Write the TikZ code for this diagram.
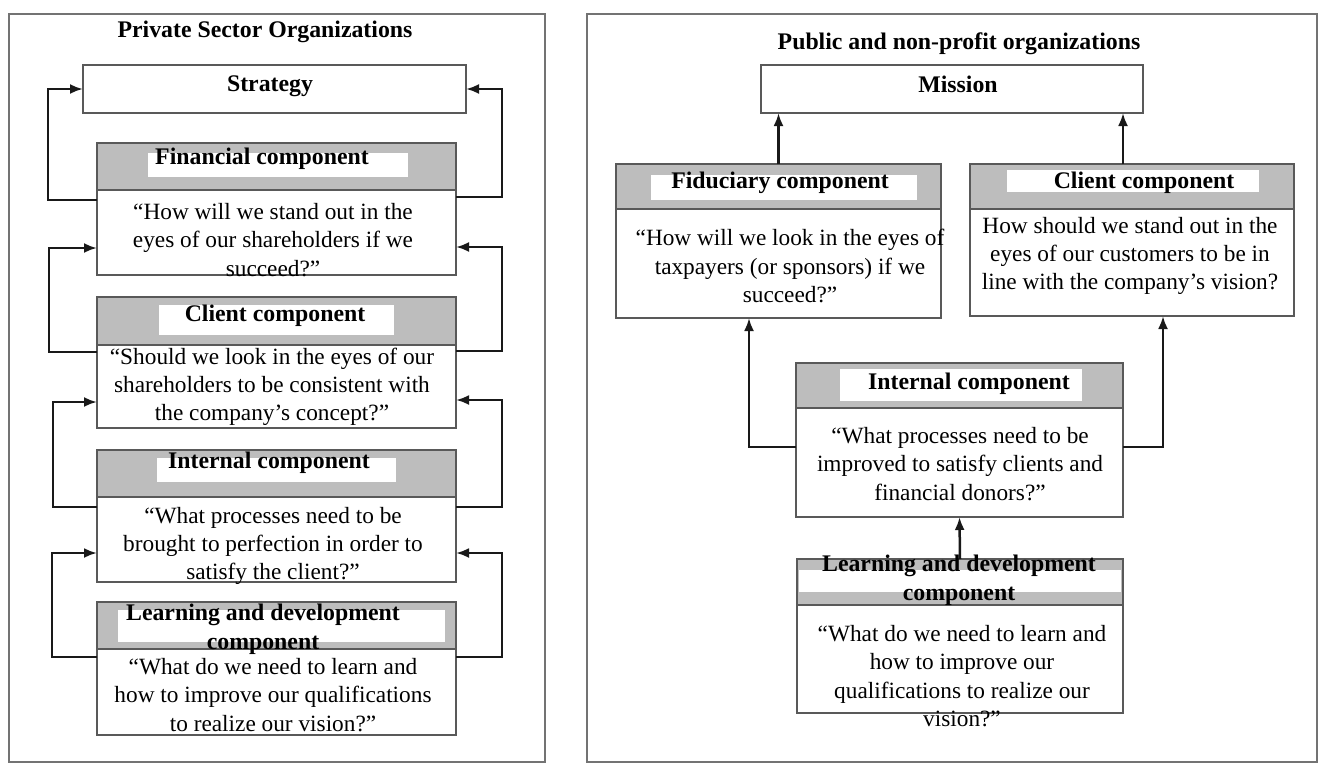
\documentclass[tikz,border=0pt]{standalone}
\usepackage{fontspec}
\setmainfont{Liberation Serif}
\usetikzlibrary{arrows.meta,fit}
\begin{document}
\begin{tikzpicture}[x=1pt,y=-1pt,
  panel/.style={draw=black!55, line width=1.6pt},
  plainbox/.style={draw=black!65, line width=1.8pt, inner sep=0pt, outer sep=0pt},
  hdr/.style={draw=black!65, line width=1.8pt, fill=black!26, inner sep=0pt, outer sep=0pt},
  lbl/.style={fill=white, inner sep=0pt, outer sep=0pt},
  ttl/.style={font=\fontsize{23.8}{29}\selectfont\bfseries, inner sep=0pt, align=center},
  body/.style={font=\fontsize{23.3}{28.3}\selectfont, inner sep=0pt, align=center},
  link/.style={draw=black!90, line width=2.5pt, -{Latex[length=13pt,width=10pt]}},
]
\useasboundingbox (0,0) rectangle (1336,766);

% ---------------- left panel: private sector ----------------
\node[panel, inner sep=0pt, fit={(9,14) (545,762)}] (frameL) {};
\node[ttl] (titleL) at (265,32) {Private Sector Organizations};

\node[plainbox, fit={(83,65) (466,113)}] (strat) {};
\node[ttl] (stratT) at (270,86) {Strategy};

% financial component
\node[hdr, fit={(97,143) (456,190)}] (finH) {};
\node[lbl, fit={(148,153) (408,177)}] (finL) {};
\node[plainbox, fit={(97,190) (456,275)}] (finB) {};
\node[ttl] (finT) at (262,159) {Financial component};
\node[body] (finQ) at (273,240) {``How will we stand out in the\\eyes of our shareholders if we\\succeed?''};

% client component
\node[hdr, fit={(97,297) (456,345)}] (cliH) {};
\node[lbl, fit={(159,305) (394,335)}] (cliL) {};
\node[plainbox, fit={(97,345) (456,428)}] (cliB) {};
\node[ttl] (cliT) at (275,316) {Client component};
\node[body] (cliQ) at (272,387) {``Should we look in the eyes of our\\shareholders to be consistent with\\the company's concept?''};

% internal component
\node[hdr, fit={(97,450) (456,497)}] (intH) {};
\node[lbl, fit={(157,458) (396,482)}] (intL) {};
\node[plainbox, fit={(97,497) (456,582)}] (intB) {};
\node[ttl] (intT) at (269,463) {Internal component};
\node[body] (intQ) at (273,546) {``What processes need to be\\brought to perfection in order to\\satisfy the client?''};

% learning and development component
\node[hdr, fit={(97,602) (456,649)}] (lrnH) {};
\node[lbl, fit={(118,610) (445,642)}] (lrnL) {};
\node[plainbox, fit={(97,649) (456,735)}] (lrnB) {};
\node[ttl] (lrnT) at (263,629) {Learning and development\\component};
\node[body] (lrnQ) at (273,695) {``What do we need to learn and\\how to improve our qualifications\\to realize our vision?''};

% feedback loops on both sides
\draw[link] ([yshift=-10pt]finB.north west) -- ++(-49,0) |- (strat.west);
\draw[link] ([yshift=-7pt]finB.north east) -- ++(46,0) |- (strat.east);
\draw[link] ([yshift=-7pt]cliB.north west) -- ++(-48,0) |- ([yshift=-15.5pt]finB.west);
\draw[link] ([yshift=-6pt]cliB.north east) -- ++(46,0) |- ([yshift=-14.5pt]finB.east);
\draw[link] ([yshift=-10pt]intB.north west) -- ++(-44,0) |- ([yshift=-15.5pt]cliB.west);
\draw[link] ([yshift=-10pt]intB.north east) -- ++(46,0) |- ([yshift=-13.5pt]cliB.east);
\draw[link] ([yshift=-8pt]lrnB.north west) -- ++(-45,0) |- ([yshift=-13.5pt]intB.west);
\draw[link] ([yshift=-8pt]lrnB.north east) -- ++(46,0) |- ([yshift=-13.5pt]intB.east);

% ---------------- right panel: public and non-profit ----------------
\node[panel, inner sep=0pt, fit={(587,14) (1317,762)}] (frameR) {};
\node[ttl] (titleR) at (959,44) {Public and non-profit organizations};

\node[plainbox, fit={(761,65) (1143,113)}] (mis) {};
\node[ttl] (misT) at (958,84) {Mission};

% fiduciary component
\node[hdr, fit={(616,164) (941,209)}] (fidH) {};
\node[lbl, fit={(651,175) (917,200)}] (fidL) {};
\node[plainbox, fit={(616,209) (941,318)}] (fidB) {};
\node[ttl] (fidT) at (780,183) {Fiduciary component};
\node[body] (fidQ) at (790,266) {``How will we look in the eyes of\\taxpayers (or sponsors) if we\\succeed?''};

% client component
\node[hdr, fit={(970,164) (1294,209)}] (rcH) {};
\node[lbl, fit={(1007,170) (1259,192)}] (rcL) {};
\node[plainbox, fit={(970,209) (1294,316)}] (rcB) {};
\node[ttl] (rcT) at (1144,183) {Client component};
\node[body] (rcQ) at (1130,256) {How should we stand out in the\\eyes of our customers to be in\\line with the company's vision?};

% internal component
\node[hdr, fit={(796,363) (1123,408)}] (riH) {};
\node[lbl, fit={(840,369) (1082,401)}] (riL) {};
\node[plainbox, fit={(796,408) (1123,517)}] (riB) {};
\node[ttl] (riT) at (969,384) {Internal component};
\node[body] (riQ) at (960,464) {``What processes need to be\\improved to satisfy clients and\\financial donors?''};

% learning and development component
\node[hdr, fit={(797,559) (1123,605)}] (rlH) {};
\node[lbl, fit={(799,570) (1121,592)}] (rlL) {};
\node[plainbox, fit={(797,605) (1123,713)}] (rlB) {};
\node[ttl] (rlT) at (959,580) {Learning and development\\component};
\node[body] (rlQ) at (962,676) {``What do we need to learn and\\how to improve our\\qualifications to realize our\\vision?''};

% upward links
\draw[link] (fidH.north) -- (fidH.north |- mis.south);
\draw[link] ([xshift=-9pt]rcH.north) -- ([xshift=-9pt]rcH.north |- mis.south);
\draw[link] ([yshift=15.5pt]riB.west) -| ([xshift=-29.5pt]fidB.south);
\draw[link] ([yshift=15.5pt]riB.east) -| ([xshift=31pt]rcB.south);
\draw[link] (rlH.north) -- (riB.south);
\end{tikzpicture}
\end{document}
